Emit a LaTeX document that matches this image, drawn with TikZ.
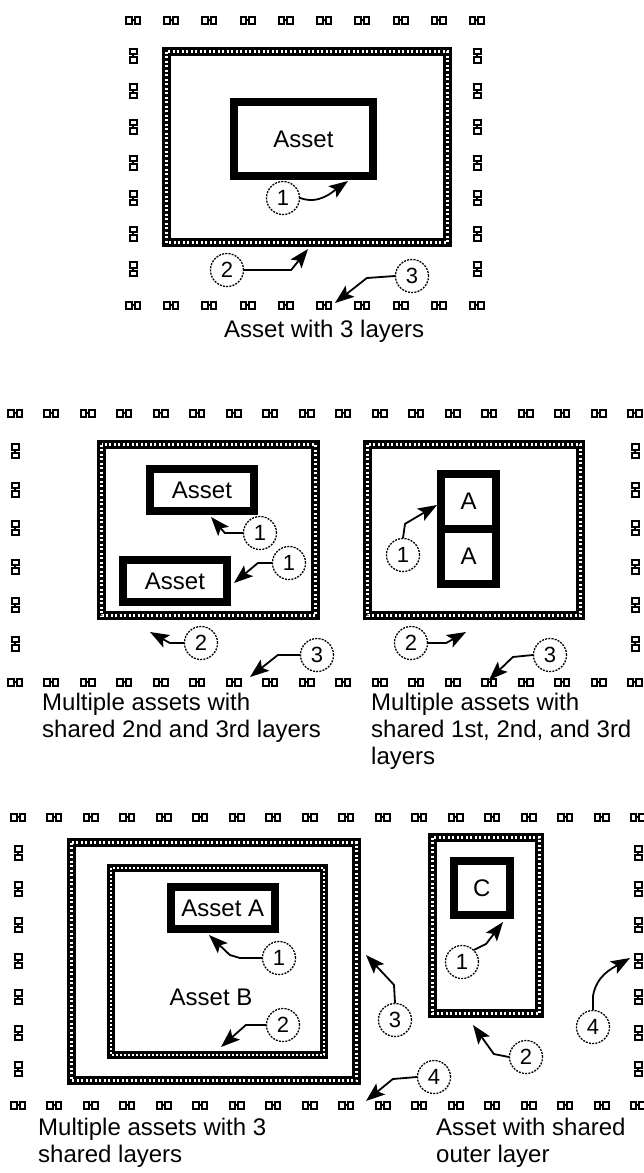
\documentclass[tikz,border=0pt]{standalone}
\usepackage{fontspec}
\setmainfont{Liberation Sans}
\usetikzlibrary{arrows.meta}

\tikzset{
  layer/.style={line width=9.5pt,postaction={draw,white,line width=3pt,dash pattern=on 2pt off 2.5pt}},
  innerlayer/.style={line width=8pt,postaction={draw,white,line width=2.5pt,dash pattern=on 2pt off 2pt}},
  assetbox/.style={draw,line width=8pt,inner sep=0pt,font=\fontsize{24}{27}\selectfont},
  num/.style={circle,draw,line width=1.3pt,dash pattern=on 2pt off 1.2pt,minimum size=33pt,inner sep=0pt,font=\fontsize{22}{22}\selectfont},
  conn/.style={line width=1.8pt,-{Stealth[length=19pt,width=14pt,inset=4pt]}},
  lbl/.style={font=\fontsize{24}{27}\selectfont,inner sep=0pt,align=left},
  pics/hlink/.style={code={\draw[line width=2pt] (-7,-3.5) rectangle (-1.5,3.5) (1.5,-3.5) rectangle (7,3.5) (-1.5,0) -- (1.5,0);}},
  pics/vlink/.style={code={\draw[line width=2pt] (-3.5,-7) rectangle (3.5,-1.5) (-3.5,1.5) rectangle (3.5,7) (0,-1.5) -- (0,1.5);}}
}

\begin{document}
\begin{tikzpicture}[x=1pt,y=-1pt]
\useasboundingbox (0,0) rectangle (644,1173);
% top: asset with 3 layers
\foreach \i in {0,...,9} {\pic at ({133+38.22*\i},20) {hlink}; \pic at ({133+38.22*\i},305) {hlink};}
\foreach \j in {1,...,7} {\pic at (133,{20+35.63*\j}) {vlink}; \pic at (477,{20+35.63*\j}) {vlink};}
\draw[layer] (166.5,51.5) rectangle (447.5,242.5);
\node[assetbox,minimum width=139pt,minimum height=74pt] (asset) at (303.5,139) {Asset};
\node[num] (t1) at (283,198) {1};
\node[num] (t2) at (227,270) {2};
\node[num] (t3) at (412,276) {3};
\coordinate (p1) at (348,181);
\coordinate (p2) at (308,249);
\coordinate (p3) at (335,303);
\draw[conn] (t1.east) to[out=-20,in=215] (p1);
\draw[conn] (t2.east) -- ++(47,0) -- (p2);
\draw[conn] (t3.west) -- ++(-28,2) -- (p3);
\node[lbl,anchor=base west] (cap1) at (224,337) {Asset with 3 layers};

% middle: shared layers
\foreach \i in {0,...,17} {\pic at ({15+36.47*\i},413) {hlink}; \pic at ({15+36.47*\i},682) {hlink};}
\foreach \j in {1,...,6} {\pic at (15,{413+38.43*\j}) {vlink}; \pic at (635,{413+38.43*\j}) {vlink};}
\draw[layer] (101.5,444.5) rectangle (315.5,615.5);
\draw[layer] (367.5,444.5) rectangle (580.5,615.5);
\node[assetbox,minimum width=104pt,minimum height=42pt] (assetu) at (202,490) {Asset};
\node[assetbox,minimum width=104pt,minimum height=42pt] (assetl) at (175,581) {Asset};
\node[assetbox,minimum width=55pt,minimum height=55pt] (aup) at (468.5,501.5) {A};
\node[assetbox,minimum width=55pt,minimum height=55pt] (alow) at (468.5,556.5) {A};
\node[num] (ma1) at (260,533) {1};
\node[num] (mb1) at (289,563) {1};
\node[num] (m2) at (201,643) {2};
\node[num] (m3) at (317,655) {3};
\node[num] (r1) at (403,555) {1};
\node[num] (r2) at (411,643) {2};
\node[num] (r3) at (550,655) {3};
\coordinate (pa1) at (211,517);
\coordinate (pb1) at (234,583);
\coordinate (pm2) at (150,632);
\coordinate (pm3) at (250,677);
\coordinate (pr1) at (437,505);
\coordinate (pr2) at (466,632);
\coordinate (pr3) at (489,680);
\draw[conn] (ma1.west) -- ++(-18,0) -- (pa1);
\draw[conn] (mb1.west) -- ++(-14,0) -- (pb1);
\draw[conn] (m2.west) -- ++(-14,0) -- (pm2);
\draw[conn] (m3.west) -- ++(-22,0) -- (pm3);
\draw[conn] (r1.north) -- ++(2,-14) -- (pr1);
\draw[conn] (r2.east) -- ++(18,0) -- (pr2);
\draw[conn] (r3.west) -- ++(-20,2) -- (pr3);
\node[lbl,anchor=base west] (cap2) at (42,737) {Multiple assets with\\shared 2nd and 3rd layers};
\node[lbl,anchor=base west] (cap3) at (371,764) {Multiple assets with\\shared 1st, 2nd, and 3rd\\layers};

% bottom: 3 shared layers, shared outer layer
\foreach \i in {0,...,17} {\pic at ({18+36.47*\i},817) {hlink}; \pic at ({18+36.47*\i},1105) {hlink};}
\foreach \j in {1,...,7} {\pic at (18,{817+36*\j}) {vlink}; \pic at (638,{817+36*\j}) {vlink};}
\draw[layer] (71.5,842.5) rectangle (356.5,1080.5);
\draw[innerlayer] (111,868) rectangle (324,1055);
\draw[layer] (432.5,837.5) rectangle (539.5,1013.5);
\node[assetbox,minimum width=104.5pt,minimum height=42pt] (asseta) at (222.75,908) {Asset A};
\node[lbl] (assetb) at (211,997) {Asset B};
\node[assetbox,minimum width=55.5pt,minimum height=54pt] (assetc) at (481.75,888) {C};
\node[num] (b1) at (279,958) {1};
\node[num] (b2) at (283,1025) {2};
\node[num] (b3) at (395,1020) {3};
\node[num] (b4) at (434,1077) {4};
\node[num] (c1) at (462,962) {1};
\node[num] (c2) at (526,1057) {2};
\node[num] (c4) at (593,1027) {4};
\coordinate (qb1) at (209,935);
\coordinate (qb2) at (221,1047);
\coordinate (qb3) at (366,955);
\coordinate (qb4) at (366,1101);
\coordinate (qc1) at (503,922);
\coordinate (qc2) at (473,1025);
\coordinate (qc4) at (630,958);
\draw[conn] (b1.west) -- ++(-22,0) -- ++(-10,-3) -- (qb1);
\draw[conn] (b2.west) -- ++(-20,0) -- (qb2);
\draw[conn] (b3.north) -- ++(-1,-18) -- (qb3);
\draw[conn] (b4.west) -- ++(-24,2) -- (qb4);
\draw[conn] (c1.north east) -- ++(12,-6) -- (qc1);
\draw[conn] (c2.west) -- ++(-15,-3) -- (qc2);
\draw[conn] (c4.north) -- ++(0,-14) to[out=80,in=210] (qc4);
\node[lbl,anchor=base west] (cap4) at (38,1162) {Multiple assets with 3\\shared layers};
\node[lbl,anchor=base west] (cap5) at (436,1162) {Asset with shared\\outer layer};
\end{tikzpicture}
\end{document}
